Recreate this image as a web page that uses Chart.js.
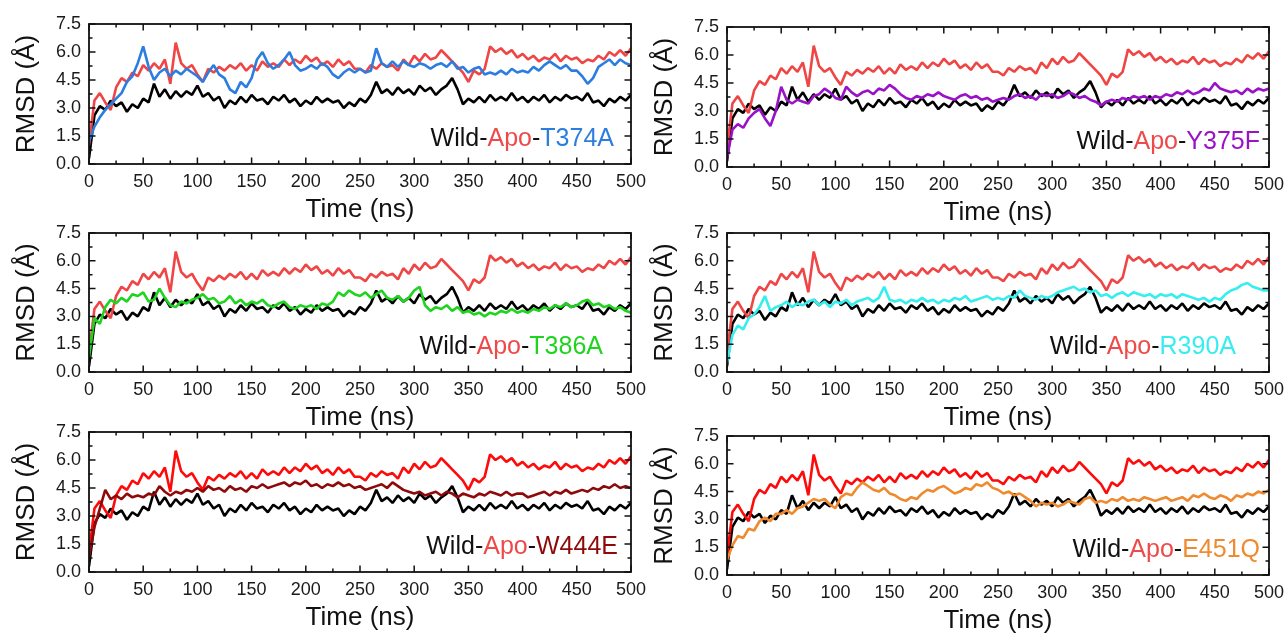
<!DOCTYPE html>
<html>
<head>
<meta charset="utf-8">
<script src="https://cdn.jsdelivr.net/npm/chart.js@4/dist/chart.umd.min.js"></script>
<style>
html, body { margin: 0; padding: 0; background: #fff; overflow: hidden; }
#wrap { position: relative; width: 1288px; height: 635px; overflow: hidden; }
#wrap canvas { position: absolute; }
</style>
</head>
<body>
<div id="wrap"></div>
<script>
// time axis (ns), one sample every 5 ns
var timeNs = [
  0, 5, 10, 15, 20, 25, 30, 35, 40, 45,
  50, 55, 60, 65, 70, 75, 80, 85, 90, 95,
  100, 105, 110, 115, 120, 125, 130, 135, 140, 145,
  150, 155, 160, 165, 170, 175, 180, 185, 190, 195,
  200, 205, 210, 215, 220, 225, 230, 235, 240, 245,
  250, 255, 260, 265, 270, 275, 280, 285, 290, 295,
  300, 305, 310, 315, 320, 325, 330, 335, 340, 345,
  350, 355, 360, 365, 370, 375, 380, 385, 390, 395,
  400, 405, 410, 415, 420, 425, 430, 435, 440, 445,
  450, 455, 460, 465, 470, 475, 480, 485, 490, 495,
  500
];

// RMSD (Å)
var wild = [
  0.3, 2.6, 3.1, 2.9, 3.4, 3.1, 3.3, 2.8, 3.2, 3.0,
  3.5, 3.3, 4.3, 3.6, 4.0, 3.5, 3.9, 3.6, 3.9, 3.7,
  4.2, 3.6, 3.8, 3.4, 3.6, 3.0, 3.4, 3.2, 3.6, 3.3,
  3.7, 3.4, 3.5, 3.2, 3.6, 3.4, 3.7, 3.3, 3.5, 3.1,
  3.4, 3.2, 3.6, 3.3, 3.5, 3.3, 3.4, 3.0, 3.3, 3.1,
  3.5, 3.3, 3.7, 4.4, 3.8, 4.0, 3.7, 4.1, 3.8, 4.0,
  3.7, 4.2, 3.9, 4.1, 3.7, 4.0, 4.2, 4.6, 4.0, 3.2,
  3.5, 3.3, 3.6, 3.3, 3.7, 3.4, 3.6, 3.4, 3.8, 3.4,
  3.6, 3.3, 3.6, 3.4, 3.7, 3.3, 3.6, 3.4, 3.7, 3.5,
  3.6, 3.4, 3.8, 3.3, 3.4, 3.1, 3.5, 3.3, 3.6, 3.4,
  3.7
];
var apo = [
  1.0, 3.4, 3.8, 3.3, 2.9, 4.1, 4.6, 4.4, 4.9, 4.7,
  5.3, 5.0, 5.4, 5.1, 5.6, 4.3, 6.5, 5.4, 5.1, 5.3,
  4.8, 4.4, 5.1, 4.9, 5.2, 5.0, 5.3, 5.1, 5.4, 5.0,
  5.3, 5.0, 5.5, 5.2, 5.4, 5.2, 5.6, 5.3, 5.6, 5.4,
  5.8, 5.5, 5.7, 5.3, 5.5, 5.2, 5.6, 5.3, 5.5, 5.1,
  5.1, 4.9, 5.3, 5.1, 5.4, 5.2, 5.3, 5.0, 5.6, 5.3,
  5.8, 5.5, 5.9, 5.6, 5.7, 6.1, 5.8, 5.5, 5.2, 4.9,
  4.4, 5.0, 4.8, 5.1, 6.3, 6.0, 6.2, 5.9, 6.1, 5.7,
  5.9, 5.6, 5.8, 5.5, 5.7, 5.6, 5.9, 5.5, 5.8, 5.6,
  5.7, 5.4, 5.6, 5.5, 5.8, 5.6, 6.0, 5.8, 6.1, 5.8,
  6.2
];
var t374a = [
  1.2, 2.0, 2.5, 2.9, 3.2, 3.5, 3.8, 4.4, 4.7, 5.4,
  6.3, 5.2, 4.5, 4.9, 5.1, 4.7, 5.0, 4.8, 5.1, 4.9,
  4.7, 4.4, 4.9, 5.3, 4.8, 4.6, 4.0, 3.8, 4.4, 4.1,
  4.6, 5.6, 6.0, 5.4, 5.1, 5.3, 5.6, 6.0, 5.3, 5.0,
  5.1, 5.3, 5.1, 5.4, 5.2, 4.8, 4.6, 4.9, 5.1, 4.9,
  5.1, 4.9, 5.0, 6.2, 5.4, 5.2, 5.5, 5.2, 5.5, 5.3,
  5.2, 5.4, 5.3, 5.1, 5.3, 5.4, 5.2, 5.5, 5.1, 5.2,
  4.9, 5.1, 5.2, 4.8, 4.9, 4.8, 5.0, 4.8, 5.1, 4.9,
  5.0, 4.9, 5.2, 5.0, 5.3, 5.5, 5.3, 5.1, 5.3, 5.0,
  5.0, 4.7, 4.3, 4.6, 5.2, 5.4, 5.6, 5.3, 5.6, 5.4,
  5.3
];
var y375f = [
  0.5, 2.0, 2.3, 2.1, 2.6, 2.9, 3.1, 2.6, 2.2, 3.0,
  4.3, 3.6, 3.4, 3.6, 3.5, 3.4, 3.8, 3.9, 4.2, 4.0,
  3.7, 3.6, 4.3, 4.0, 3.8, 4.0, 4.1, 3.9, 4.2, 4.1,
  4.4, 4.2, 3.9, 3.7, 3.6, 3.8, 3.7, 3.9, 3.8, 4.0,
  3.8, 3.7, 3.6, 3.8, 3.9, 3.7, 3.8, 3.6, 3.7, 3.5,
  3.6, 3.7, 3.6, 3.8, 3.9, 3.7, 3.8, 3.6, 3.9, 3.8,
  3.9, 3.7, 3.8, 4.0, 3.9, 3.7, 3.8, 3.6, 3.5, 3.3,
  3.5, 3.6, 3.5, 3.7, 3.6, 3.8, 3.7, 3.8, 3.6, 3.8,
  3.7, 3.9, 3.8, 4.0, 3.9, 4.1, 3.9, 4.0, 4.2, 4.1,
  4.5, 4.2, 4.1, 4.0, 4.1, 3.9, 4.2, 4.0, 4.2, 4.1,
  4.2
];
var t386a = [
  0.8, 2.9, 2.6, 3.5, 3.9, 3.7, 4.0, 3.8, 4.2, 4.1,
  4.3, 3.8, 3.9, 4.5, 4.0, 3.6, 3.5, 3.8, 3.7, 3.9,
  4.0, 4.2, 3.9, 4.0, 3.7, 3.8, 4.1, 3.7, 3.9, 3.6,
  3.8, 3.7, 3.9, 3.6, 3.5, 3.7, 3.8, 3.5, 3.4, 3.6,
  3.5, 3.6, 3.4, 3.7, 3.6, 3.8, 4.3, 4.1, 4.4, 4.2,
  4.1, 4.3, 4.0, 4.2, 4.4, 4.0, 3.9, 4.1, 3.8, 4.0,
  4.4, 4.6, 3.6, 3.3, 3.5, 3.4, 3.6, 3.3, 3.5, 3.2,
  3.3, 3.1, 3.2, 3.0, 3.2, 3.1, 3.3, 3.2, 3.4, 3.2,
  3.3, 3.2, 3.4, 3.3, 3.5, 3.4, 3.6, 3.5, 3.7, 3.5,
  3.6, 3.8, 3.9, 3.6, 3.7, 3.5, 3.6, 3.4, 3.5, 3.3,
  3.2
];
var r390a = [
  0.5, 2.0, 2.5, 2.3, 2.9, 3.1, 3.5, 4.1, 3.3, 3.5,
  3.6, 3.8, 3.5, 3.7, 3.6, 3.8, 3.9, 3.6, 3.8, 3.5,
  3.8, 3.7, 3.9, 3.6, 3.8, 3.9, 4.0, 3.8, 4.0, 4.6,
  3.9, 3.8, 3.9, 3.7, 3.9, 3.8, 4.0, 3.8, 3.9, 3.7,
  3.9, 3.8, 4.0, 3.9, 4.1, 3.8, 3.9, 4.0, 4.1, 3.9,
  4.0, 3.9, 4.1, 4.0, 4.4, 4.1, 4.0, 3.9, 4.1, 4.0,
  4.1, 4.3, 4.4, 4.5, 4.6, 4.4, 4.5, 4.3, 4.4, 4.1,
  4.2, 4.0, 4.2, 4.3, 4.1, 4.3, 4.2, 4.1, 4.2, 4.0,
  4.2, 4.1, 4.2, 4.0, 4.2, 4.1, 4.0, 3.9, 4.0, 3.8,
  4.0, 3.9, 4.2, 4.4, 4.5, 4.7, 4.8, 4.6, 4.5, 4.4,
  4.4
];
var w444e = [
  0.8, 2.4, 3.4, 4.4, 3.9, 4.1, 3.9, 4.2, 4.0, 4.1,
  4.0, 4.2, 4.1, 4.6, 4.3, 4.1, 4.3, 4.2, 4.4, 4.3,
  4.5, 4.3, 4.6, 4.4, 4.5, 4.3, 4.6, 4.4, 4.5, 4.3,
  4.6, 4.5, 4.7, 4.5, 4.6, 4.7, 4.8, 4.6, 4.8, 4.7,
  4.9, 4.6, 4.7, 4.5, 4.7, 4.6, 4.8, 4.6, 4.7, 4.5,
  4.6, 4.4, 4.5, 4.6, 4.7, 4.5, 4.8, 4.6, 4.4, 4.3,
  4.2, 4.3, 4.1, 4.2, 4.3, 4.1, 4.3, 4.2, 4.0, 4.2,
  4.1, 4.0, 4.2, 4.1, 4.3, 4.2, 4.1, 4.3, 4.1, 4.2,
  4.2, 4.0, 4.1, 4.2, 4.3, 4.1, 4.3, 4.2, 4.4, 4.2,
  4.3, 4.4, 4.3, 4.5, 4.4, 4.6, 4.5, 4.7, 4.5, 4.6,
  4.5
];
var e451q = [
  0.8, 1.6, 2.1, 2.0, 2.5, 2.4, 2.9, 3.1, 2.9, 3.3,
  3.3, 3.5, 3.3, 3.6, 3.7, 3.9, 4.1, 4.0, 4.1, 3.8,
  3.6, 4.2, 4.4, 4.3, 4.7, 5.0, 4.8, 4.6, 4.5, 4.7,
  4.4, 4.3, 4.1, 4.0, 4.2, 4.1, 4.4, 4.6, 4.5, 4.7,
  4.8, 4.6, 4.4, 4.5, 4.7, 4.6, 4.9, 4.8, 5.0, 4.7,
  4.6, 4.4, 4.5, 4.3, 4.4, 4.2, 4.0, 3.7, 3.9, 3.8,
  3.9, 3.7, 3.8, 4.0, 3.9, 3.8, 4.1, 4.2, 3.9, 4.0,
  3.9, 4.1, 4.0, 4.2, 4.0, 4.1, 4.0, 4.2, 4.1, 4.0,
  4.1, 4.2, 4.0, 4.1, 4.2, 4.0, 4.3, 4.2, 4.4, 4.2,
  4.1, 4.3, 4.2, 4.0, 4.3, 4.2, 4.4, 4.3, 4.5, 4.4,
  4.6
];

var font = "'Liberation Sans', Arial, sans-serif";

// one entry per panel: mutant series, colours, frame box in the page
var panels = [
  { mutant: 'T374A', values: t374a, color: '#2b7de0', apoLine: '#f04545', box: [89, 24, 631, 164], inset: 17 },
  { mutant: 'Y375F', values: y375f, color: '#9a12c8', apoLine: '#f04545', box: [727, 27, 1269, 167], inset: 9 },
  { mutant: 'T386A', values: t386a, color: '#1fd41f', apoLine: '#f04545', box: [89, 233, 631, 372], inset: 28 },
  { mutant: 'R390A', values: r390a, color: '#36eeee', apoLine: '#f04545', box: [727, 233, 1269, 372], inset: 33 },
  { mutant: 'W444E', values: w444e, color: '#8e0a0a', apoLine: '#ff0a0a', box: [89, 432, 631, 572], inset: 13 },
  { mutant: 'E451Q', values: e451q, color: '#f08a2e', apoLine: '#ff0a0a', box: [727, 436, 1269, 575], inset: 9 }
];

function points(vals) {
  return timeNs.map(function (t, i) { return { x: t, y: vals[i] }; });
}

// frame, inward ticks on all four sides, and the coloured label
var framePlugin = {
  id: 'frame',
  afterDatasetsDraw: function (chart) {
    var ctx = chart.ctx, a = chart.chartArea;
    var xs = chart.scales.x, ys = chart.scales.y;
    var p = chart.options.plugins.frame;
    ctx.save();
    ctx.strokeStyle = '#111';
    ctx.lineWidth = 1.8;
    ctx.strokeRect(a.left, a.top, a.right - a.left, a.bottom - a.top);
    ctx.lineWidth = 1.5;
    ctx.beginPath();
    for (var i = 0; i <= 20; i++) {
      var px = xs.getPixelForValue(i * 25), len = i % 2 ? 3.5 : 6.5;
      ctx.moveTo(px, a.bottom); ctx.lineTo(px, a.bottom - len);
      ctx.moveTo(px, a.top); ctx.lineTo(px, a.top + len);
    }
    for (var j = 0; j <= 10; j++) {
      var py = ys.getPixelForValue(j * 0.75), ln = j % 2 ? 3.5 : 6.5;
      ctx.moveTo(a.left, py); ctx.lineTo(a.left + ln, py);
      ctx.moveTo(a.right, py); ctx.lineTo(a.right - ln, py);
    }
    ctx.stroke();

    var parts = [['Wild-', '#111'], ['Apo', '#ee4a4a'], ['-', '#111'], [p.mutant, p.color]];
    ctx.font = '25px ' + font;
    ctx.textBaseline = 'middle';
    ctx.textAlign = 'left';
    var total = 0;
    parts.forEach(function (q) { total += ctx.measureText(q[0]).width; });
    var x = a.right - p.inset - total, y = a.bottom - 25;
    parts.forEach(function (q) {
      ctx.fillStyle = q[1];
      ctx.fillText(q[0], x, y);
      x += ctx.measureText(q[0]).width;
    });
    ctx.restore();
  }
};

var wrap = document.getElementById('wrap');
panels.forEach(function (p) {
  var cv = document.createElement('canvas');
  var w = 660, h = (p.box[3] - p.box[1]) + 90;
  cv.width = w; cv.height = h;
  cv.style.left = (p.box[0] - 89) + 'px';
  cv.style.top = (p.box[1] - 24) + 'px';
  cv.style.width = w + 'px'; cv.style.height = h + 'px';
  wrap.appendChild(cv);

  new Chart(cv, {
    type: 'line',
    data: {
      datasets: [
        { label: p.mutant, data: points(p.values), borderColor: p.color, order: 0 },
        { label: 'Apo', data: points(apo), borderColor: p.apoLine, order: 1 },
        { label: 'Wild', data: points(wild), borderColor: '#000000', order: 2 }
      ]
    },
    options: {
      responsive: false,
      animation: false,
      devicePixelRatio: 1,
      elements: { point: { radius: 0 }, line: { borderWidth: 2.6, tension: 0, borderJoinStyle: 'bevel' } },
      layout: { padding: { top: 24, right: w - 89 - (p.box[2] - p.box[0]), left: 0, bottom: 0 } },
      plugins: {
        legend: { display: false },
        tooltip: { enabled: false },
        frame: { mutant: p.mutant, color: p.color, inset: p.inset }
      },
      scales: {
        x: {
          type: 'linear', min: 0, max: 500,
          afterFit: function (s) { s.height = 66; },
          grid: { display: false, drawTicks: false },
          border: { display: false },
          ticks: { stepSize: 50, autoSkip: false, maxRotation: 0, padding: 7, color: '#1a1a1a', font: { family: font, size: 18 } },
          title: { display: true, text: 'Time (ns)', color: '#111', font: { family: font, size: 26 }, padding: { top: 0, bottom: 5 } }
        },
        y: {
          min: 0, max: 7.5,
          afterFit: function (s) { s.width = 89; },
          grid: { display: false, drawTicks: false },
          border: { display: false },
          ticks: { stepSize: 1.5, padding: 8, color: '#1a1a1a', font: { family: font, size: 18 },
                   callback: function (v) { return Number(v).toFixed(1); } },
          title: { display: true, text: 'RMSD (Å)', color: '#111', font: { family: font, size: 26 }, padding: { top: 11, bottom: 0 } }
        }
      }
    },
    plugins: [framePlugin]
  });
});
</script>
</body>
</html>
